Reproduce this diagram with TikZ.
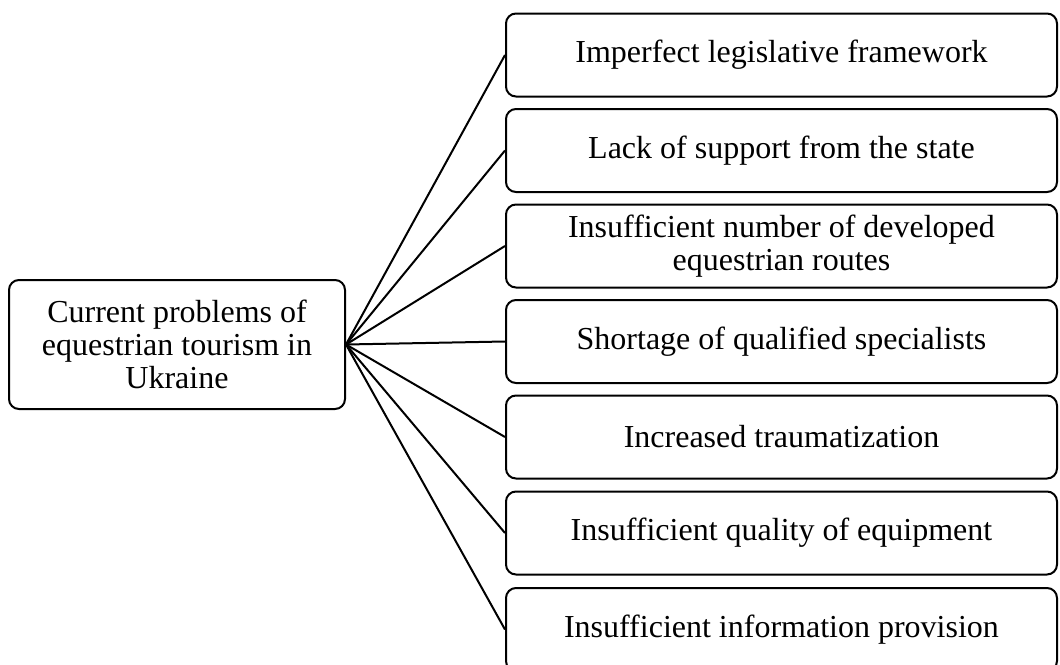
\documentclass[tikz,border=0pt]{standalone}
\usepackage{fontspec}
\setmainfont{Liberation Serif}
\usetikzlibrary{positioning}

\begin{document}
\begin{tikzpicture}[x=0.5pt,y=-0.5pt,
  box/.style={draw,line width=1pt,rounded corners=5pt,align=center,inner sep=0pt,
    font=\fontsize{16}{16.5}\selectfont},
  problem/.style={box,minimum width=275.5pt,minimum height=41.5pt},
  link/.style={line width=1pt}]
\path[use as bounding box,clip] (0,0) rectangle (1060,664);
\node[box,minimum width=168pt,minimum height=64.5pt] (hub) at (177,344.5)
  {Current problems of\\equestrian tourism in\\Ukraine};
\foreach \i/\yy/\txt in {
  1/55/{Imperfect legislative framework},
  2/150.5/{Lack of support from the state},
  3/246/{Insufficient number of developed\\equestrian routes},
  4/341.5/{Shortage of qualified specialists},
  5/437/{Increased traumatization},
  6/533/{Insufficient quality of equipment},
  7/629.5/{Insufficient information provision}}
{
  \node[problem] (p\i) at (781.5,\yy) {\txt};
  \draw[link] (hub.east) -- (p\i.west);
}
\end{tikzpicture}
\end{document}
